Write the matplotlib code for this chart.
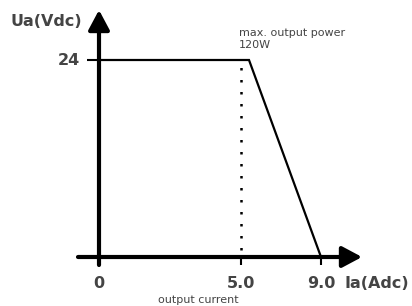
import numpy as np
import matplotlib
matplotlib.use("Agg")
import matplotlib.pyplot as plt

# Data (schematic output characteristic)
ia = [0.0, 5.4, 9.0]          # output current (A)
ua = [24.0, 24.0, 0.0]        # output voltage (V)
x_ticks = [0.0, 5.0, 9.0]
x_tick_labels = ["0", "5.0", "9.0"]
y_ticks = [24.0]
y_tick_labels = ["24"]
rated_current = 5.0

W, H = 412, 306
fig = plt.figure(figsize=(W / 100, H / 100), dpi=100)
ax = fig.add_axes([0, 0, 1, 1])

# piecewise-linear (schematic) x scale
def fwd(x):
    x = np.asarray(x, dtype=float)
    return np.where(x <= 5.0, x * 28.4, 142.0 + (x - 5.0) * 20.0)

def inv(p):
    p = np.asarray(p, dtype=float)
    return np.where(p <= 142.0, p / 28.4, 5.0 + (p - 142.0) / 20.0)

ax.set_xscale("function", functions=(fwd, inv))
ax.set_xlim(float(inv(-99.0)), float(inv(313.0)))
ppu = 197.0 / 24.0
ax.set_ylim(-(306 - 257) / ppu, 24 + 60 / ppu)
ax.axis("off")

txt = "#444444"

# axes with arrows
arrow = dict(arrowstyle="-|>,head_length=0.6,head_width=0.32", lw=3,
             color="black", mutation_scale=20, shrinkA=0, shrinkB=0)
ax.annotate("", xy=(float(inv(263.0)), 0), xytext=(float(inv(-21.0)), 0),
            arrowprops=arrow)
ax.annotate("", xy=(0, 24 + 50 / ppu), xytext=(0, -8 / ppu),
            arrowprops=arrow)

# ticks
for t in x_ticks[1:]:
    ax.plot([t, t], [0, -8 / ppu], color="black", lw=1.5, solid_capstyle="butt")
for t in y_ticks:
    ax.plot([float(inv(-12.0)), 0], [t, t], color="black", lw=1.5, solid_capstyle="butt")

# characteristic
ax.plot(ia, ua, color="black", lw=1.6, solid_joinstyle="miter")
ax.plot([rated_current, rated_current], [0, 24], color="black", lw=1.8,
        linestyle=(2, (1, 3.8)))

# labels
bold = dict(fontsize=11.5, fontweight="bold", color=txt, family="DejaVu Sans")
for t, lab in zip(x_ticks, x_tick_labels):
    ax.text(t, -26 / ppu, lab, ha="center", va="center", **bold)
for t, lab in zip(y_ticks, y_tick_labels):
    ax.text(float(inv(-19.0)), t, lab, ha="right", va="center", **bold)

fig.text(10 / W, 1 - 21 / H, "Ua(Vdc)", ha="left", va="center", **bold)
fig.text(345 / W, 1 - 283 / H, "Ia(Adc)", ha="left", va="center", **bold)

small = dict(fontsize=8, color=txt, family="DejaVu Sans")
fig.text(239 / W, 1 - 33 / H, "max. output power", ha="left", va="center", **small)
fig.text(239 / W, 1 - 45 / H, "120W", ha="left", va="center", **small)
fig.text(198 / W, 1 - 300 / H, "output current", ha="center", va="center", **small)

fig.savefig("out.png", dpi=100)
